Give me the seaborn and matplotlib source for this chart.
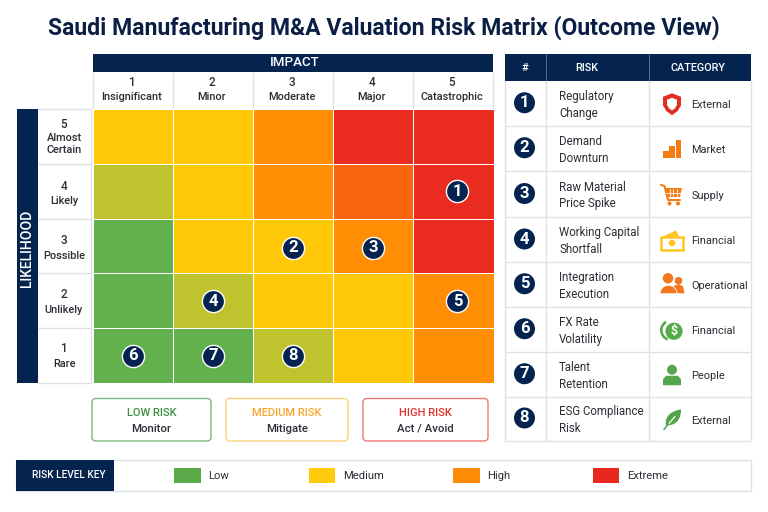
import numpy as np
import pandas as pd
import seaborn as sns
import matplotlib
matplotlib.use("Agg")
import matplotlib.pyplot as plt
from matplotlib.colors import ListedColormap
from matplotlib.patches import Rectangle, FancyBboxPatch, Polygon, Circle, Wedge, PathPatch
from matplotlib.path import Path

sns.set_theme(style="white")
plt.rcParams["font.family"] = ["Roboto", "DejaVu Sans"]

TITLE = "Saudi Manufacturing M&A Valuation Risk Matrix (Outcome View)"
impact_numbers = [1, 2, 3, 4, 5]
impact_names = ["Insignificant", "Minor", "Moderate", "Major", "Catastrophic"]
likelihood_numbers = [5, 4, 3, 2, 1]
likelihood_names = ["Almost\nCertain", "Likely", "Possible", "Unlikely", "Rare"]

# Cell shade per likelihood row (5 down to 1) and impact column (1 to 5)
shade_names = ["green", "olive", "yellow", "orange", "deep orange", "red"]
shade_colors = ["#63B04F", "#BFC42E", "#FFC90A", "#FF8E05", "#FA650F", "#EA2B1F"]
row_5 = [2, 2, 3, 5, 5]
row_4 = [1, 2, 3, 4, 5]
row_3 = [0, 2, 2, 3, 5]
row_2 = [0, 1, 2, 2, 3]
row_1 = [0, 0, 1, 2, 3]

risk_ids = [1, 2, 3, 4, 5, 6, 7, 8]
risk_impact = [5, 3, 4, 2, 5, 1, 2, 3]
risk_likelihood = [4, 3, 3, 2, 2, 1, 1, 1]
risk_names = ["Regulatory\nChange", "Demand\nDownturn", "Raw Material\nPrice Spike",
              "Working Capital\nShortfall", "Integration\nExecution", "FX Rate\nVolatility",
              "Talent\nRetention", "ESG Compliance\nRisk"]
risk_categories = ["External", "Market", "Supply", "Financial",
                   "Operational", "Financial", "People", "External"]

action_titles = ["LOW RISK", "MEDIUM RISK", "HIGH RISK"]
action_verbs = ["Monitor", "Mitigate", "Act / Avoid"]
key_labels = ["Low", "Medium", "High", "Extreme"]
key_colors = ["#5BAA49", "#FFCB0A", "#FF8A05", "#E8281E"]

NAVY = "#04234F"
GRID = "#DFE2E5"
INK = "#2A2E35"
W, H = 768, 512

fig = plt.figure(figsize=(W / 100, H / 100), dpi=100, facecolor="white")
page = fig.add_axes([0, 0, 1, 1], zorder=0)
page.set_xlim(0, W)
page.set_ylim(H, 0)
page.axis("off")


def box(x0, y0, x1, y1, **kw):
    kw.setdefault("linewidth", 0)
    page.add_patch(Rectangle((x0, y0), x1 - x0, y1 - y0, **kw))


def rule(x0, y0, x1, y1, color=GRID, lw=1.0):
    page.plot([x0, x1], [y0, y1], color=color, lw=lw, solid_capstyle="butt", zorder=1)


page.text(383.5, 28, TITLE, ha="center", va="center", fontsize=16.6,
          fontweight="bold", color="#0B1F45")

# Impact header
box(93, 53.5, 493, 72, facecolor=NAVY)
page.text(294.5, 63, "IMPACT", ha="center", va="center", color="white",
          fontsize=9.6, fontweight="medium")
col_edges = np.linspace(93, 493, 6)
for edge in col_edges:
    rule(edge, 72, edge, 109)
for i, (num, name) in enumerate(zip(impact_numbers, impact_names)):
    cx = (col_edges[i] + col_edges[i + 1]) / 2
    page.text(cx - 1, 83, str(num), ha="center", va="center", fontsize=8.4, fontweight="medium", color=INK)
    page.text(cx - 1, 96.5, name, ha="center", va="center", fontsize=7.9, fontweight="medium", color=INK)

# Likelihood header
box(16.5, 109, 37.5, 383, facecolor=NAVY)
page.text(27.5, 248, "LIKELIHOOD", ha="center", va="center", rotation=90,
          color="white", fontsize=10, fontweight="medium")
row_edges = np.linspace(109, 383, 6)
for edge in row_edges:
    rule(38, edge, 91, edge)
rule(91, 109, 91, 383)
label_offsets = [(124.5, 144), (186, 201), (241, 256), (295, 310), (349, 364)]
for i, (num, name) in enumerate(zip(likelihood_numbers, likelihood_names)):
    y_num, y_name = label_offsets[i]
    page.text(64, y_num, str(num), ha="center", va="center", fontsize=8.4, fontweight="medium", color=INK)
    page.text(64, y_name, name, ha="center", va="center", fontsize=7.9, fontweight="medium",
              color=INK, linespacing=1.15)

# Risk matrix heatmap
matrix = pd.DataFrame([row_5, row_4, row_3, row_2, row_1],
                      index=likelihood_numbers, columns=impact_numbers)
heat = fig.add_axes([93 / W, 1 - 383 / H, 400.5 / W, 274 / H], zorder=1)
sns.heatmap(matrix, ax=heat, cmap=ListedColormap(shade_colors), vmin=-0.5, vmax=5.5,
            cbar=False, linewidths=0.7, linecolor="#FFFFFF", square=False,
            xticklabels=False, yticklabels=False)
heat.set_xlabel("")
heat.set_ylabel("")

# Numbered risks placed on the matrix; badges in the last column sit right of centre
for rid, imp, lik in zip(risk_ids, risk_impact, risk_likelihood):
    x = imp - 0.5 + (0.05 if imp == 5 else 0.0)
    y = 5 - lik + 0.5 + (0.03 if lik == 3 else 0.0)
    heat.scatter([x], [y], s=255, color=NAVY, edgecolor="white", linewidth=1.0, zorder=4)
    heat.text(x, y + 0.005, str(rid), ha="center", va="center", color="white",
              fontsize=12, fontweight="bold", zorder=5)

# Action boxes
action_edges = [(92, 211), (226, 348), (363, 488)]
action_edge_colors = ["#7FB67B", "#FBD27E", "#EE7A78"]
action_text_colors = ["#3E8E41", "#F9A52B", "#E5312B"]
for (x0, x1), t, v, ec, tc in zip(action_edges, action_titles, action_verbs,
                                  action_edge_colors, action_text_colors):
    page.add_patch(FancyBboxPatch((x0 + 3, 398.5 + 3), x1 - x0 - 6, 42.5 - 6,
                                  boxstyle="round,pad=3,rounding_size=4",
                                  facecolor="white", edgecolor=ec, linewidth=1.0))
    cx = (x0 + x1) / 2
    page.text(cx, 412.5, t, ha="center", va="center", color=tc, fontsize=8.0, fontweight="medium")
    page.text(cx, 429, v, ha="center", va="center", color=INK, fontsize=8.2, fontweight="medium")

# Risk register table
table_x = [505, 545.5, 649, 750.5]
row_y = [81, 125.5, 171, 217, 262, 306.5, 352, 396.5, 440.5]
box(505, 54, 750.5, 81, facecolor=NAVY)
rule(545.5, 54, 545.5, 81, color="#5A6F8F", lw=0.7)
rule(649, 54, 649, 81, color="#5A6F8F", lw=0.7)
for cx, label in zip([525, 587, 697.5], ["#", "RISK", "CATEGORY"]):
    page.text(cx, 68, label, ha="center", va="center", color="white", fontsize=7.8, fontweight="medium")
for x in table_x:
    rule(x, 81, x, row_y[-1])
for y in row_y[1:]:
    rule(505, y, 750.5, y)


def polygon(points, color, cx, cy, **kw):
    pts = [(cx + a, cy + b) for a, b in points]
    page.add_patch(Polygon(pts, closed=True, facecolor=color, edgecolor="none", zorder=3, **kw))


def icon_shield(cx, cy):
    outline = [(0, -11), (9, -7.5), (9, 1), (6, 6.5), (0, 11), (-6, 6.5), (-9, 1), (-9, -7.5)]
    inner = [(0, -6.5), (5, -4.5), (5, 0.5), (3, 4), (0, 6.3), (-3, 4), (-5, 0.5), (-5, -4.5)]
    polygon(outline, "#E42B25", cx, cy)
    polygon(inner, "white", cx, cy)


def icon_bars(cx, cy):
    for dx, top in [(-9, 2), (-3, -3), (3.5, -9)]:
        box(cx + dx, cy + top, cx + dx + 5.5, cy + 9, facecolor="#F57C13", zorder=3)


def icon_cart(cx, cy):
    c = "#F57C13"
    page.plot([cx - 11, cx - 7.5, cx - 4, cx + 8], [cy - 10, cy - 9, cy + 5, cy + 5],
              color=c, lw=1.5, zorder=3)
    polygon([(-7, -7), (10, -7), (8, 2), (-5, 2)], c, cx, cy)
    for dx in (-2.5, 1, 4.5):
        page.plot([cx + dx, cx + dx], [cy - 6, cy + 1], color="white", lw=0.6, zorder=4)
    page.plot([cx - 6, cx + 9], [cy - 2.5, cy - 2.5], color="white", lw=0.6, zorder=4)
    for dx in (-2.5, 6):
        page.add_patch(Circle((cx + dx, cy + 8.5), 2, facecolor=c, edgecolor="none", zorder=3))


def icon_money(cx, cy):
    c = "#FFC51E"
    polygon([(-9, -4), (4, -10), (7, -4)], c, cx, cy)
    page.add_patch(Rectangle((cx - 11, cy - 4), 22, 13, facecolor="white", edgecolor=c, lw=1.8, zorder=3))
    page.add_patch(Circle((cx, cy + 2.5), 3.3, facecolor=c, edgecolor="none", zorder=4))


def icon_people(cx, cy):
    c = "#F2761B"
    page.add_patch(Circle((cx + 6.5, cy - 4.5), 3.8, facecolor=c, edgecolor="none", zorder=3))
    polygon([(0, 8), (1, 1), (6.5, -1), (11, 1), (12.5, 8)], c, cx, cy)
    page.add_patch(Circle((cx - 4, cy - 7), 5.2, facecolor=c, edgecolor="none", zorder=4))
    page.add_patch(Wedge((cx - 3.5, cy + 8.5), 8.5, 180, 360, facecolor=c, edgecolor="white", lw=0.6, zorder=4))


def icon_coin(cx, cy):
    c = "#55AB4C"
    page.add_patch(Wedge((cx - 1, cy), 11, 110, 240, width=2.6, facecolor=c, edgecolor="none", zorder=3))
    page.add_patch(Circle((cx + 2, cy + 1), 8.6, facecolor=c, edgecolor="none", zorder=4))
    page.text(cx + 2, cy + 1, "$", ha="center", va="center", color="white",
              fontsize=9, fontweight="bold", zorder=5)


def icon_person(cx, cy):
    c = "#55A64E"
    page.add_patch(Circle((cx, cy - 5.5), 5, facecolor=c, edgecolor="none", zorder=3))
    polygon([(-9, 10), (-9, 4), (-6, 0.5), (6, 0.5), (9, 4), (9, 10)], c, cx, cy)


def icon_leaf(cx, cy):
    c = "#4FA64A"
    verts = [(cx - 6, cy + 6), (cx - 8, cy - 4), (cx + 1, cy - 9), (cx + 9, cy - 10),
             (cx + 9, cy - 2), (cx + 6, cy + 6), (cx - 6, cy + 6)]
    codes = [Path.MOVETO, Path.CURVE4, Path.CURVE4, Path.CURVE4, Path.CURVE4, Path.CURVE4, Path.CURVE4]
    page.add_patch(PathPatch(Path(verts, codes), facecolor=c, edgecolor="none", zorder=3))
    page.plot([cx - 8, cx + 3], [cy + 10, cy - 3], color="white", lw=0.9, zorder=4)
    page.plot([cx - 8, cx - 3.5], [cy + 10, cy + 4.5], color=c, lw=1.1, zorder=4)


icons = [icon_shield, icon_bars, icon_cart, icon_money, icon_people, icon_coin, icon_person, icon_leaf]
for i, (rid, name, cat, draw) in enumerate(zip(risk_ids, risk_names, risk_categories, icons)):
    cy = (row_y[i] + row_y[i + 1]) / 2
    page.add_patch(Circle((524.5, cy - 0.5), 10.5, facecolor=NAVY, edgecolor="none", zorder=3))
    page.text(524.5, cy - 0.5, str(rid), ha="center", va="center", color="white",
              fontsize=12, fontweight="bold", zorder=4)
    page.text(559, cy + 1.5, name, ha="left", va="center", color=INK, fontsize=8.3,
              linespacing=1.38)
    draw(672, cy + 1)
    page.text(691.5, cy + 2, cat, ha="left", va="center", color=INK, fontsize=7.9)

# Risk level key
box(16, 459.5, 751, 490.5, facecolor="white", edgecolor=GRID, linewidth=1)
box(16, 459.5, 114, 490.5, facecolor=NAVY)
page.text(69, 475.5, "RISK LEVEL KEY", ha="center", va="center", color="white",
          fontsize=7.3, fontweight="medium")
swatch_x = [174, 308.5, 453, 592.5]
for x, label, color in zip(swatch_x, key_labels, key_colors):
    box(x, 467.5, x + 26.5, 483, facecolor=color)
    page.text(x + 34.5, 476, label, ha="left", va="center", color=INK, fontsize=8.1)

fig.savefig("out.png", dpi=100)
